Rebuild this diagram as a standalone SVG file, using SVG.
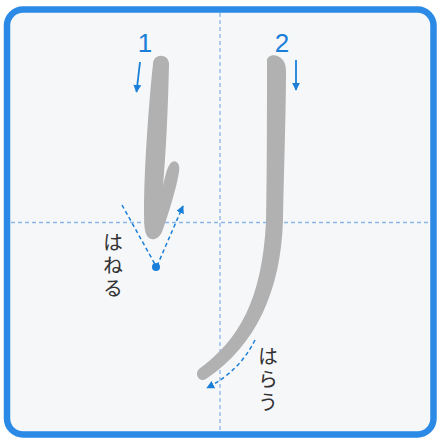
<svg xmlns="http://www.w3.org/2000/svg" width="439" height="438" viewBox="0 0 439 438">
<defs>
<style>
.guide{stroke:#8ab6ea;stroke-width:1.3;stroke-dasharray:4 3;fill:none}
.brush{fill:#b1b1b1}
.blue{stroke:#1a7fd8;stroke-width:1.8;fill:none}
.bluedash{stroke:#1a7fd8;stroke-width:1.5;stroke-dasharray:4 3;fill:none}
.num{font-family:"Liberation Sans",Arial,sans-serif;fill:#1a7fd8}
.lbl{font-family:"Noto Sans CJK JP","Noto Sans",sans-serif;font-size:20px;fill:#333;writing-mode:vertical-rl;letter-spacing:3px}
</style>
<marker id="ah" viewBox="0 0 10 10" refX="9" refY="5" markerWidth="8" markerHeight="8" orient="auto" markerUnits="userSpaceOnUse">
<path d="M0,0 L10,5 L0,10 z" fill="#1a7fd8"/>
</marker>
</defs>
<rect x="0" y="0" width="439" height="438" fill="#ffffff"/>
<rect id="frame" x="7" y="9.5" width="426.5" height="425" rx="16" fill="#f6f7f9" stroke="#2b8ae6" stroke-width="6.5"/>
<g id="guides">
<line class="guide" x1="220" y1="13" x2="220" y2="432"/>
<line class="guide" x1="11" y1="222.5" x2="430" y2="222.5"/>
</g>
<g id="stroke1">
<path class="brush" d="M153,64 C153,53 169,53 169,64 C168,110 166,150 163,186 C165,176 167,168 170,164 C174,158 181,162 179,172 C176,190 169,212 162,232 C157,242 147,242 145,230 C142,200 148,110 153,64 Z"/>
</g>
<g id="stroke2">
<path class="brush" d="M267,62 C266,54 277,53 282,59 C285,62 286,66 286,72 C286,110 284,170 283,220 C281,290 256,346 206,379 C199,383 194,374 199,369 C239,340 262,300 266,222 C267,170 267,110 267,62 Z"/>
</g>
<g id="connectors">
<line class="blue" x1="140" y1="62" x2="136.5" y2="92" marker-end="url(#ah)"/>
<line class="blue" x1="296" y1="60" x2="296" y2="90" marker-end="url(#ah)"/>
<line class="bluedash" x1="122" y1="205" x2="156" y2="266"/>
<line class="bluedash" x1="157" y1="266" x2="183" y2="206" marker-end="url(#ah)"/>
<circle cx="156" cy="267" r="4" fill="#1a7fd8"/>
<path class="bluedash" d="M255,340 C245,360 230,376 207,388" marker-end="url(#ah)"/>
</g>
<g id="labels">
<text class="num" x="145" y="52" font-size="26" text-anchor="middle">1</text>
<text class="num" x="282" y="52" font-size="26" text-anchor="middle">2</text>
<text class="lbl" x="113" y="232">はねる</text>
<text class="lbl" x="268" y="346">はらう</text>
</g>
</svg>
